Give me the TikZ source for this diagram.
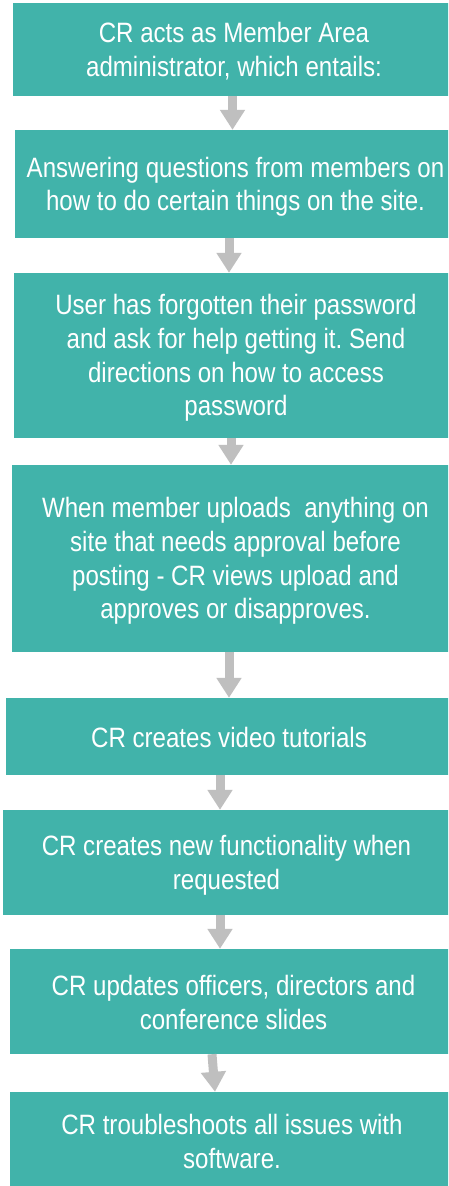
\documentclass[tikz,border=0pt]{standalone}
\usepackage{fontspec}
\setmainfont[FakeStretch=0.86]{Liberation Sans}
\usetikzlibrary{arrows.meta}
\definecolor{boxteal}{RGB}{65,179,170}
\definecolor{arrowgray}{RGB}{191,191,191}
\frenchspacing
\begin{document}
\begin{tikzpicture}[x=1pt,y=-1pt,
  boxnode/.style={rectangle, fill=boxteal, draw=none, inner sep=0pt},
  txtnode/.style={text=white, align=center, inner sep=0pt,
    font=\fontsize{28}{33.7}\selectfont\frenchspacing,
    execute at begin node={\rule{0pt}{21pt}},
    execute at end node={\rule[-7pt]{0pt}{7pt}}},
  flowarrow/.style={draw=arrowgray, line width=9pt,
    -{Triangle[width=24pt,length=20pt]}}]
\clip (0,0) rectangle (448,1186);
\fill[white] (0,0) rectangle (448,1186);
% boxes
\node[boxnode, minimum width=443pt, minimum height=93pt]  (b1) at (234.5,49.5) {};
\node[boxnode, minimum width=441pt, minimum height=108pt] (b2) at (235.5,184) {};
\node[boxnode, minimum width=442pt, minimum height=165pt] (b3) at (235,355.5) {};
\node[boxnode, minimum width=444pt, minimum height=187pt] (b4) at (234,558.5) {};
\node[boxnode, minimum width=450pt, minimum height=77pt]  (b5) at (231,736.5) {};
\node[boxnode, minimum width=453pt, minimum height=105pt] (b6) at (229.5,862.5) {};
\node[boxnode, minimum width=446pt, minimum height=105pt] (b7) at (233,1001.5) {};
\node[boxnode, minimum width=446pt, minimum height=98pt]  (b8) at (233,1141) {};
% texts
\node[txtnode] (t1) at (234,53) {CR acts as Member Area\\administrator, which entails:};
\node[txtnode] (t2) at (235.5,187.5) {Answering questions from members on\\how to do certain things on the site.};
\node[txtnode] (t3) at (236,358.5) {User has forgotten their password\\and ask for help getting it. Send\\directions on how to access\\password};
\node[txtnode] (t4) at (235.5,561.5) {When member uploads\ \ anything on\\site that needs approval before\\posting - CR views upload and\\approves or disapproves.};
\node[txtnode] (t5) at (229,740) {CR creates video tutorials};
\node[txtnode] (t6) at (226.5,865.5) {CR creates new functionality when\\requested};
\node[txtnode] (t7) at (233.5,1005.5) {CR updates officers, directors and\\conference slides};
\node[txtnode] (t8) at (232,1145) {CR troubleshoots all issues with\\software.};
% arrows
\draw[flowarrow] ([xshift=-2pt]b1.south) -- ([xshift=-3pt]b2.north);
\draw[flowarrow] ([xshift=-6.5pt]b2.south) -- ([xshift=-6pt]b3.north);
\draw[flowarrow] ([xshift=-4pt]b3.south) -- ([xshift=-3pt]b4.north);
\draw[flowarrow] ([xshift=-5pt]b4.south) -- ([xshift=-2pt]b5.north);
\draw[flowarrow] ([xshift=-11pt]b5.south) -- ([xshift=-9.5pt]b6.north);
\draw[flowarrow] ([xshift=-9.5pt]b6.south) -- ([xshift=-13pt]b7.north);
\draw[flowarrow] ([xshift=-21pt]b7.south) -- ([xshift=-18pt]b8.north);
\end{tikzpicture}
\end{document}
